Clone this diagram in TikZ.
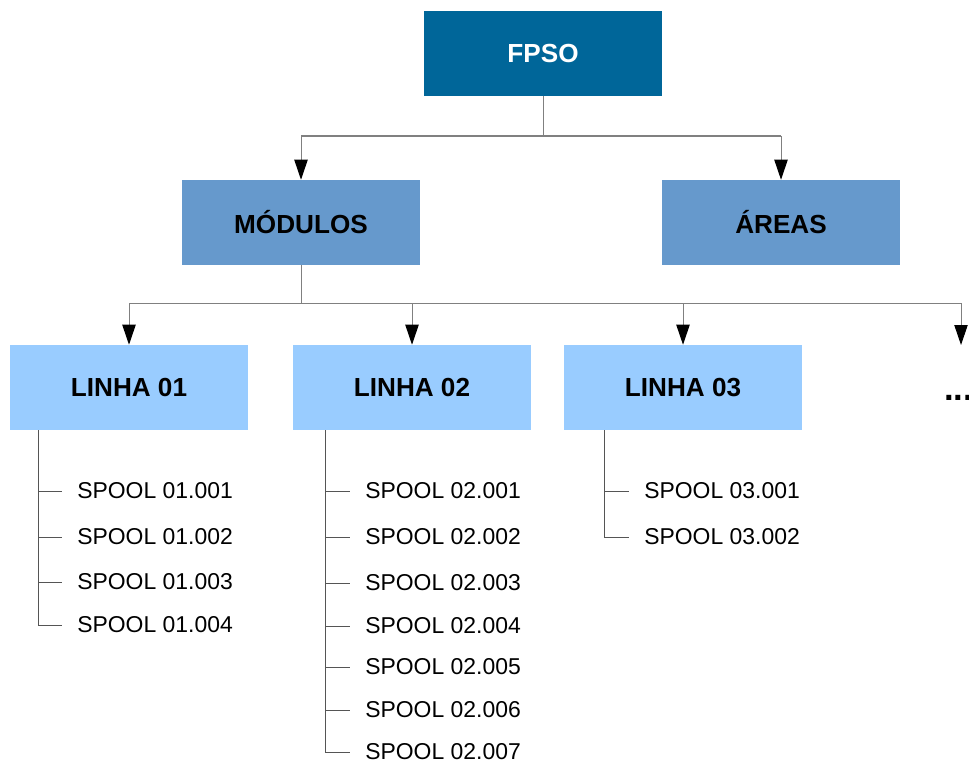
\documentclass[tikz,border=0pt]{standalone}
\usepackage{fontspec}
\setmainfont{Liberation Sans}
\usetikzlibrary{arrows.meta}

\definecolor{topblue}{HTML}{006699}
\definecolor{midblue}{HTML}{6699CC}
\definecolor{lightblue}{HTML}{99CCFF}
\definecolor{linkgray}{HTML}{808080}
\definecolor{treegray}{HTML}{555555}

\tikzset{
  box/.style={minimum width=178.5pt, minimum height=63.75pt, inner sep=0pt,
              font=\fontsize{19.6}{22}\selectfont\bfseries},
  level0/.style={box, fill=topblue, text=white},
  level1/.style={box, fill=midblue},
  level2/.style={box, fill=lightblue},
  link/.style={draw=linkgray, line width=0.75pt},
  arrowlink/.style={link, -{Triangle[length=15pt,width=10pt,color=black]}},
  spool/.style={anchor=west, inner sep=0pt, font=\fontsize{17.2}{20}\selectfont},
  tree/.style={draw=treegray, line width=0.75pt},
}

\begin{document}
\begin{tikzpicture}[x=0.75pt,y=-0.75pt]
\useasboundingbox (0,0) rectangle (969,763);

% hierarchy boxes
\node[level0] (fpso)  at (543,53.5)  {FPSO};
\node[level1] (mod)   at (301,222.5) {MÓDULOS};
\node[level1] (areas) at (781,222.5) {ÁREAS};
\node[level2] (l1)    at (129,387.5) {LINHA 01};
\node[level2] (l2)    at (412,387.5) {LINHA 02};
\node[level2] (l3)    at (683,387.5) {LINHA 03};
\node[font=\fontsize{26}{28}\selectfont\bfseries, anchor=base west, inner sep=0pt]
     (dots) at (944,400.5) {...};
\coordinate (more) at (961,345);

% bus lines
\coordinate (bus1) at (0,136);
\coordinate (bus2) at (0,303);

% FPSO -> MODULOS / AREAS
\draw[link] (fpso.south) -- (fpso.south |- bus1);
\draw[link] (mod.north |- bus1) -- (areas.north |- bus1);
\draw[arrowlink] (mod.north |- bus1) -- (mod.north);
\draw[arrowlink] (areas.north |- bus1) -- (areas.north);

% MODULOS -> LINHAS
\draw[link] (mod.south) -- (mod.south |- bus2);
\draw[link] (l1.north |- bus2) -- (more |- bus2);
\draw[arrowlink] (l1.north |- bus2) -- (l1.north);
\draw[arrowlink] (l2.north |- bus2) -- (l2.north);
\draw[arrowlink] (l3.north |- bus2) -- (l3.north);
\draw[arrowlink] (more |- bus2) -- (more);

% spool lists
\foreach \i/\y in {1/491,2/537,3/582,4/625}
  \node[spool] (s1\i) at (77,\y) {SPOOL 01.00\i};
\foreach \i/\y in {1/491,2/537,3/583,4/626,5/667,6/710,7/752}
  \node[spool] (s2\i) at (365,\y) {SPOOL 02.00\i};
\foreach \i/\y in {1/491,2/537}
  \node[spool] (s3\i) at (644,\y) {SPOOL 03.00\i};

\coordinate (t1) at ([xshift=21.75pt]l1.south west);
\coordinate (t2) at ([xshift=24.75pt]l2.south west);
\coordinate (t3) at ([xshift=30.75pt]l3.south west);

\draw[tree] (t1) |- ([xshift=-11.25pt]s14.west);
\foreach \i in {1,2,3}
  \draw[tree] (s1\i.west -| t1) -- ([xshift=-11.25pt]s1\i.west);

\draw[tree] (t2) |- ([xshift=-11.25pt]s27.west);
\foreach \i in {1,...,6}
  \draw[tree] (s2\i.west -| t2) -- ([xshift=-11.25pt]s2\i.west);

\draw[tree] (t3) |- ([xshift=-11.25pt]s32.west);
\draw[tree] (s31.west -| t3) -- ([xshift=-11.25pt]s31.west);
\end{tikzpicture}
\end{document}
